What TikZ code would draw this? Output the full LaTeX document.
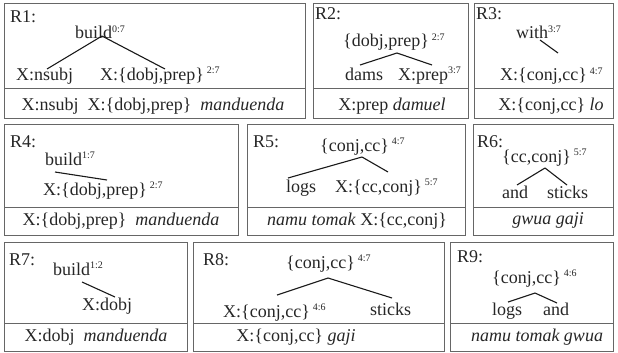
\documentclass[tikz,border=0pt]{standalone}
\usepackage{fontspec}
\setmainfont{Liberation Serif}
\usepackage{tikz}
\newcommand{\spn}[1]{\textsuperscript{\fontsize{10}{10}\selectfont #1}}
\def\rulebox(#1,#2)(#3,#4)[#5]{\draw[boxline] (#1,#2) rectangle (#3,#4); \draw[boxline] (#1,#5) -- (#3,#5);}
\tikzset{
  txt/.style={font=\fontsize{18}{20}\selectfont, text=black!85, inner sep=0pt, anchor=base west, text height=12pt, text depth=3.5pt},
  low/.style={txt, anchor=base},
  boxline/.style={draw=black!60, line width=1pt},
  edge/.style={draw=black!90, line width=1.1pt}
}

\begin{document}
\begin{tikzpicture}[x=1pt, y=-1pt]
		%%%%% FRAME %%%%%
		\useasboundingbox (0,0) rectangle (618,353);
		
		\rulebox(4,4)(305,118)[88]
		\rulebox(313,4)(468,118)[88]
		\rulebox(474,4)(613,118)[88]
		\rulebox(4,124)(238,235)[207]
		\rulebox(247,124)(465,235)[207]
		\rulebox(473,124)(613,235)[207]
		\rulebox(4,242)(187,351)[323]
		\rulebox(193,242)(444,351)[323]
		\rulebox(450,242)(613,351)[323]
		
		%%%%% R1 %%%%%
		\node[txt] (r1) at (10,23) {R1:};
		\node[txt] (b1) at (75,39) {build\spn{0:7}};
		\node[txt] (n1) at (16,80) {X:nsubj};
		\node[txt] (d1) at (100,80) {X:\{dobj,prep\}\,\spn{2:7}};
		\draw[edge] ([shift={(27,-3)}]b1.base west) -- ([shift={(31,-11)}]n1.base west);
		\draw[edge] ([shift={(27,-3)}]b1.base west) -- ([shift={(65,-11)}]d1.base west);
		\node[low] (s1) at (153,110) {X:nsubj\ \ X:\{dobj,prep\}\ \ \textit{manduenda}};
		
		%%%%% R2 %%%%%
		\node[txt] (r2) at (315,20) {R2:};
		\node[txt] (p2) at (343,47) {\{dobj,prep\}\,\spn{2:7}};
		\node[txt] (a2) at (345,80) {dams};
		\node[txt] (x2) at (398,80) {X:prep\spn{3:7}};
		\draw[edge] ([shift={(54,6)}]p2.base west) -- ([shift={(15,-15)}]a2.base west);
		\draw[edge] ([shift={(54,6)}]p2.base west) -- ([shift={(34,-15)}]x2.base west);
		\node[low] (s2) at (392,110) {X:prep \textit{damuel}};
		
		%%%%% R3 %%%%%
		\node[txt] (r3) at (476,20) {R3:};
		\node[txt] (w3) at (516,39) {with\spn{3:7}};
		\node[txt] (c3) at (500,81) {X:\{conj,cc\}\,\spn{4:7}};
		\draw[edge] ([shift={(24,1)}]w3.base west) -- ([shift={(58,-28)}]c3.base west);
		\node[low] (s3) at (551,110) {X:\{conj,cc\} \textit{lo}};
		
		%%%%% R4 %%%%%
		\node[txt] (r4) at (10,147) {R4:};
		\node[txt] (b4) at (45,165) {build\spn{1:7}};
		\node[txt] (d4) at (43,195) {X:\{dobj,prep\}\,\spn{2:7}};
		\draw[edge] ([shift={(10,7)}]b4.base west) -- ([shift={(64,-15)}]d4.base west);
		\node[low] (s4) at (121,225) {X:\{dobj,prep\}\ \ \textit{manduenda}};
		
		%%%%% R5 %%%%%
		\node[txt] (r5) at (253,147) {R5:};
		\node[txt] (c5) at (320,151) {\{conj,cc\}\,\spn{4:7}};
		\node[txt] (l5) at (286,192) {logs};
		\node[txt] (x5) at (335,192) {X:\{cc,conj\}\,\spn{5:7}};
		\draw[edge] ([shift={(42,6)}]c5.base west) -- ([shift={(2,-14)}]l5.base west);
		\draw[edge] ([shift={(42,6)}]c5.base west) -- ([shift={(53,-20)}]x5.base west);
		\node[low] (s5) at (357,225) {\textit{namu tomak} X:\{cc,conj\}};
		
		%%%%% R6 %%%%%
		\node[txt] (r6) at (477,147) {R6:};
		\node[txt] (c6) at (502,162) {\{cc,conj\}\,\spn{5:7}};
		\node[txt] (a6) at (502,198) {and};
		\node[txt] (k6) at (547,198) {sticks};
		\draw[edge] ([shift={(43,6)}]c6.base west) -- ([shift={(15,-13)}]a6.base west);
		\draw[edge] ([shift={(43,6)}]c6.base west) -- ([shift={(20,-13)}]k6.base west);
		\node[low] (s6) at (548,224) {\textit{gwua gaji}};
		
		%%%%% R7 %%%%%
		\node[txt] (r7) at (9,265) {R7:};
		\node[txt] (b7) at (53,275) {build\spn{1:2}};
		\node[txt] (x7) at (82,310) {X:dobj};
		\draw[edge] ([shift={(29,7)}]b7.base west) -- ([shift={(33,-13)}]x7.base west);
		\node[low] (s7) at (96,341) {X:dobj\ \ \textit{manduenda}};
		
		%%%%% R8 %%%%%
		\node[txt] (r8) at (203,265) {R8:};
		\node[txt] (c8) at (286,268) {\{conj,cc\}\,\spn{4:7}};
		\node[txt] (x8) at (223,317) {X:\{conj,cc\}\,\spn{4:6}};
		\node[txt] (k8) at (370,315) {sticks};
		\draw[edge] ([shift={(42,10)}]c8.base west) -- ([shift={(54,-22)}]x8.base west);
		\draw[edge] ([shift={(42,10)}]c8.base west) -- ([shift={(22,-17)}]k8.base west);
		\node[low] (s8) at (296,341) {X:\{conj,cc\} \textit{gaji}};
		
		%%%%% R9 %%%%%
		\node[txt] (r9) at (457,262) {R9:};
		\node[txt] (c9) at (492,283) {\{conj,cc\}\,\spn{4:6}};
		\node[txt] (l9) at (492,315) {logs};
		\node[txt] (a9) at (543,315) {and};
		\draw[edge] ([shift={(43,10)}]c9.base west) -- ([shift={(16,-13)}]l9.base west);
		\draw[edge] ([shift={(43,10)}]c9.base west) -- ([shift={(14,-12)}]a9.base west);
		\node[low] (s9) at (537,341) {\textit{namu tomak gwua}};
		
		%%%%% END %%%%%
\end{tikzpicture}
\end{document}
